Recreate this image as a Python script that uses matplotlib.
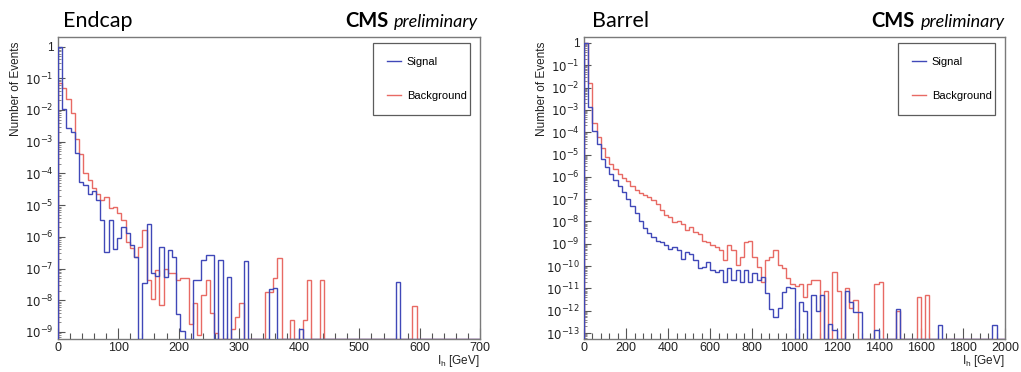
import numpy as np
import matplotlib
matplotlib.use("Agg")
import matplotlib.pyplot as plt
from matplotlib.ticker import FixedLocator, MultipleLocator, FuncFormatter, LogLocator

plt.rcParams["font.family"] = ["Liberation Sans", "DejaVu Sans"]

# Endcap: 100 bins of 7 GeV, 0..700 GeV
endcap_edges = np.linspace(0, 700, 101)
endcap_signal = [
    1.0, 1.1e-2, 2.7e-3, 2e-3, 4.5e-4, 5.5e-5, 4.4e-5, 2.2e-5, 2.7e-5, 1.5e-5,
    3.4e-6, 3.4e-7, 3.4e-6, 4e-7, 9e-7, 2e-6, 1.3e-6, 5.5e-7, 2.3e-7, 0,
    3.4e-8, 2.6e-6, 7e-8, 6e-8, 4.8e-7, 5.5e-8, 3.8e-7, 2.3e-7, 3.8e-9, 1.1e-9,
    0, 0, 4.3e-8, 4.3e-8, 1.9e-7, 2.7e-7, 2.7e-7, 0, 1.8e-7, 0,
    5.5e-8, 0, 0, 0, 1.7e-7, 0, 0, 0, 0, 0,
    2.2e-8, 2.5e-8, 0, 0, 0, 0, 0, 1.2e-9, 0, 0,
    0, 0, 0, 0, 0, 0, 0, 0, 0, 0,
    0, 0, 0, 0, 0, 0, 0, 0, 0, 0,
    3.7e-8, 0, 0, 0, 0, 0, 0, 0, 0, 0,
    0, 0, 0, 0, 0, 0, 0, 0, 0, 0,
]
endcap_background = [
    7e-2, 5e-2, 2.2e-2, 8e-3, 1.2e-3, 4e-4, 1e-4, 6e-5, 3.5e-5, 2.3e-5,
    1.5e-5, 1.8e-5, 8e-6, 9e-6, 5.5e-6, 3.4e-6, 7e-7, 4.3e-7, 2.3e-7, 4.8e-7,
    1.6e-6, 4.3e-8, 1.1e-8, 9e-8, 7e-9, 1e-7, 7e-8, 7e-8, 4.3e-8, 5e-8,
    5e-8, 1.8e-9, 8e-9, 8e-10, 1.5e-8, 4.5e-8, 4e-9, 9e-10, 0, 0,
    0, 1.2e-9, 3e-9, 8e-9, 0, 0, 0, 0, 0, 1.8e-8,
    1.8e-8, 5e-8, 2.1e-7, 0, 0, 2.3e-9, 0, 0, 2.4e-9, 4.4e-8,
    0, 0, 4.4e-8, 0, 0, 0, 0, 0, 0, 0,
    0, 0, 0, 0, 0, 0, 0, 0, 0, 0,
    0, 0, 0, 0, 6.6e-9, 0, 0, 0, 0, 0,
    0, 0, 0, 0, 0, 0, 0, 0, 0, 0,
]

# Barrel: 100 bins of 20 GeV, 0..2000 GeV
barrel_edges = np.linspace(0, 2000, 101)
barrel_signal = [
    1.0, 1.3e-3, 1.1e-4, 3e-5, 6e-6, 2.7e-6, 1.3e-6, 7e-7, 3.8e-7, 2e-7,
    1e-7, 5e-8, 2.3e-8, 1.1e-8, 5e-9, 3e-9, 2e-9, 1.4e-9, 1.2e-9, 8.5e-10,
    6e-10, 7e-10, 5e-10, 2.1e-10, 4.3e-10, 3.6e-10, 1.8e-10, 8e-11, 9e-11, 1.6e-10,
    6.5e-11, 5.5e-11, 6.5e-11, 2e-11, 8e-11, 2.3e-11, 6.5e-11, 2e-11, 6.5e-11, 2e-11,
    4.7e-11, 2.3e-11, 3.3e-11, 6e-12, 1.2e-12, 5e-13, 1.3e-12, 7e-12, 1.1e-11, 1e-11,
    0, 2.5e-12, 1e-12, 0, 5e-12, 1e-12, 5e-12, 0, 2.5e-13, 1.4e-13,
    0, 0, 8e-12, 2.5e-12, 9e-13, 9e-13, 0, 0, 0, 1.4e-13,
    0, 0, 0, 0, 1.2e-12, 0, 0, 0, 0, 0,
    0, 0, 0, 0, 2.3e-13, 0, 0, 0, 0, 0,
    0, 0, 0, 0, 0, 0, 0, 2.3e-13, 0, 0,
]
barrel_background = [
    0.98, 1.6e-2, 2.5e-4, 6e-5, 2e-5, 8e-6, 3.8e-6, 2.2e-6, 1.3e-6, 9e-7,
    6.5e-7, 4e-7, 2.6e-7, 1.9e-7, 1.5e-7, 1.2e-7, 9e-8, 6e-8, 3.2e-8, 2e-8,
    1.6e-8, 9e-9, 1.1e-8, 8e-9, 4e-9, 5.5e-9, 3.3e-9, 2.8e-9, 1.4e-9, 1.2e-9,
    8.5e-10, 7e-10, 5e-10, 1.8e-10, 8.5e-10, 5e-10, 1.1e-10, 2.5e-10, 1.2e-9, 1.4e-9,
    2.5e-10, 9e-11, 2e-11, 1.8e-10, 2.5e-10, 5e-10, 1.1e-10, 8e-11, 2.8e-11, 1.6e-11,
    1.3e-11, 1.6e-11, 4.3e-12, 1.5e-11, 2.5e-11, 2.5e-11, 0, 8e-12, 0, 5.5e-11,
    8e-12, 0, 1e-11, 1.3e-12, 3e-12, 0, 0, 0, 0, 1.5e-11,
    2e-11, 0, 0, 0, 1e-12, 0, 0, 0, 0, 4e-12,
    0, 5e-12, 0, 0, 0, 0, 0, 0, 0, 0,
    0, 0, 0, 0, 0, 0, 0, 0, 0, 0,
]

sig_color = "#4048b8"
bkg_color = "#e86a64"


def log_label(v, pos):
    if abs(v - 1) < 1e-9:
        return "1"
    return r"$10^{%d}$" % int(round(np.log10(v)))


def draw_panel(ax, edges, sig, bkg, xmax, ymin, ymax, xmajor, xminor, ydecades):
    sig = np.asarray(sig, dtype=float)
    bkg = np.asarray(bkg, dtype=float)
    ax.set_yscale("log")
    ax.stairs(np.where(bkg > 0, bkg, ymin), edges, baseline=ymin,
              color=bkg_color, lw=1.0, label="Background", zorder=2)
    ax.stairs(np.where(sig > 0, sig, ymin), edges, baseline=ymin,
              color=sig_color, lw=1.0, label="Signal", zorder=3)
    ax.set_xlim(0, xmax)
    ax.set_ylim(ymin, ymax)

    ax.xaxis.set_major_locator(MultipleLocator(xmajor))
    ax.xaxis.set_minor_locator(MultipleLocator(xminor))
    ax.yaxis.set_major_locator(FixedLocator([10.0 ** (-k) for k in range(ydecades + 1)]))
    ax.yaxis.set_major_formatter(FuncFormatter(log_label))
    ax.yaxis.set_minor_locator(LogLocator(base=10, subs=np.arange(2, 10), numticks=50))

    ax.tick_params(axis="x", which="major", direction="in", length=8, width=0.8,
                   labelsize=9, pad=2, colors="#555555", labelcolor="#222222")
    ax.tick_params(axis="x", which="minor", direction="in", length=4, width=0.8,
                   colors="#555555")
    ax.tick_params(axis="y", which="major", direction="in", length=5, width=0.8,
                   labelsize=8.5, pad=3, colors="#555555", labelcolor="#222222")
    ax.tick_params(axis="y", which="minor", direction="in", length=2.5, width=0.6,
                   colors="#777777")
    ax.tick_params(top=False, right=False, which="both")
    for s in ax.spines.values():
        s.set_color("#7a7a7a")
        s.set_linewidth(1.0)

    h, l = ax.get_legend_handles_labels()
    leg = ax.legend(h[::-1], l[::-1], loc="upper left",
                    bbox_to_anchor=(0.746, 0.748, 0.23, 0.232), mode="expand",
                    fontsize=8, frameon=True, fancybox=False, shadow=False,
                    handlelength=1.3, handletextpad=0.5, labelspacing=2.2,
                    borderpad=1.25, borderaxespad=0.0)
    leg.get_frame().set_edgecolor("#333333")
    leg.get_frame().set_linewidth(0.9)

    ax.text(-0.1, 0.985, "Number of Events", rotation=90, ha="center", va="top",
            fontsize=8.5, color="#222222", transform=ax.transAxes)
    ax.text(1.0, -0.047, r"I$_{\mathregular{h}}$ [GeV]", ha="right", va="top",
            fontsize=8.5, color="#222222", transform=ax.transAxes)


fig = plt.figure(figsize=(10.21, 3.72), dpi=100)
W, H = 1021.0, 372.0
ax1 = fig.add_axes([58 / W, 1 - 339 / H, 422 / W, 302 / H])
ax2 = fig.add_axes([584 / W, 1 - 339 / H, 421 / W, 302 / H])

draw_panel(ax1, endcap_edges, endcap_signal, endcap_background,
           700, 6e-10, 2.0, 100, 20, 9)
draw_panel(ax2, barrel_edges, barrel_signal, barrel_background,
           2000, 5.4e-14, 1.85, 200, 40, 13)

title_font = ["Lato", "Open Sans", "DejaVu Sans"]
base_y = 1 - 27 / H
fig.text(63 / W, base_y, "Endcap", fontsize=15.5, family=title_font, va="baseline", ha="left")
fig.text(592 / W, base_y, "Barrel", fontsize=15.5, family=title_font, va="baseline", ha="left")
for right_px, cms_px in [(478, 389), (1005, 914)]:
    fig.text(right_px / W, base_y, "preliminary", fontsize=13, style="italic",
             family=title_font, va="baseline", ha="right")
    fig.text(cms_px / W, base_y, "CMS", fontsize=14.5, weight="bold",
             family=title_font, va="baseline", ha="right")

fig.savefig("out.png", dpi=100, facecolor="white")
